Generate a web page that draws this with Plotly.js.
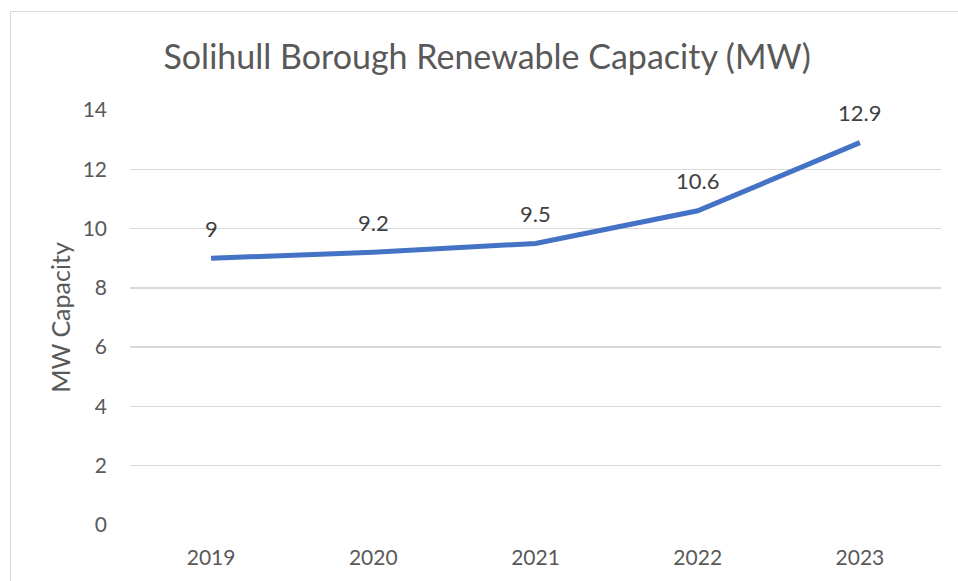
<!DOCTYPE html>
<html>
<head>
<meta charset="utf-8">
<script src="https://cdn.plot.ly/plotly-3.0.1.min.js"></script>
<style>
html,body{margin:0;padding:0;width:958px;height:581px;overflow:hidden;background:#fff;}
#frame{position:absolute;left:10px;top:11px;width:980px;height:600px;border:1px solid #d9d9d9;box-sizing:border-box;}
#chart{position:absolute;left:0;top:0;width:958px;height:580px;}
</style>
</head>
<body>
<div id="frame"><div id="chart"></div></div>
<script>
const years = ['2019', '2020', '2021', '2022', '2023'];
const capacityMW = [9, 9.2, 9.5, 10.6, 12.9];
const valueLabels = ['9', '9.2', '9.5', '10.6', '12.9'];
const yTicks = [0, 2, 4, 6, 8, 10, 12, 14];

const fontFam = 'Lato, Carlito, Calibri, sans-serif';

const trace = {
  x: years,
  y: capacityMW,
  type: 'scatter',
  mode: 'lines',
  line: {color: '#4472C4', width: 5},
  hoverinfo: 'skip'
};

const annotations = valueLabels.map((lbl, i) => ({
  x: i, y: capacityMW[i], xref: 'x', yref: 'y',
  text: lbl, showarrow: false, yshift: 30,
  xanchor: 'center', yanchor: 'middle',
  font: {family: fontFam, size: 22, color: '#404040'}
}));

const layout = {
  width: 958, height: 580,
  margin: {l: 119, r: 28, t: 98, b: 67},
  paper_bgcolor: 'rgba(0,0,0,0)',
  plot_bgcolor: '#fff',
  showlegend: false,
  title: {
    text: 'Solihull Borough Renewable Capacity (MW)',
    font: {family: fontFam, size: 34, color: '#595959'},
    xref: 'container', x: 0.497, xanchor: 'center',
    yref: 'container', y: 1 - 45/580, yanchor: 'middle'
  },
  xaxis: {
    type: 'category',
    range: [-0.5, 4.5],
    showgrid: false, zeroline: false, showline: false,
    ticks: '', ticklabelstandoff: 18,
    tickfont: {family: fontFam, size: 21, color: '#595959'},
    fixedrange: true
  },
  yaxis: {
    range: [0, 14],
    tickvals: yTicks,
    showgrid: true, gridcolor: '#d9d9d9', gridwidth: 1.5,
    zeroline: false, showline: false,
    ticks: '', ticklabelstandoff: 22,
    tickfont: {family: fontFam, size: 21, color: '#595959'},
    title: {text: 'MW Capacity', font: {family: fontFam, size: 25, color: '#595959'}, standoff: 4},
    fixedrange: true
  },
  annotations: annotations
};

Plotly.newPlot('chart', [trace], layout, {displayModeBar: false, staticPlot: true});
</script>
</body>
</html>
